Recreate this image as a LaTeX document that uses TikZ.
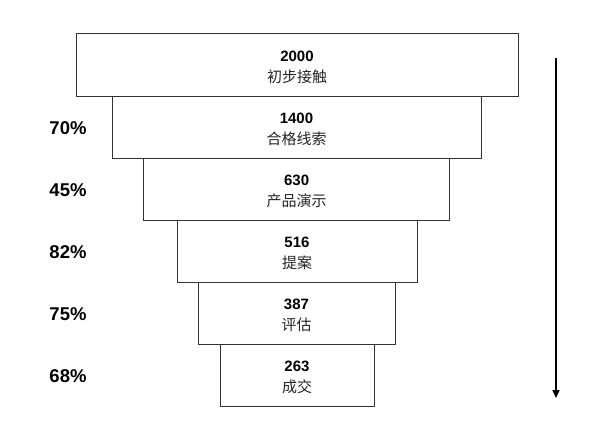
\documentclass[tikz,border=0pt]{standalone}
\usepackage{fontspec}
\setmainfont{Liberation Sans}
\newfontfamily\cjk{Noto Sans CJK SC}
\usetikzlibrary{arrows.meta}
\begin{document}
\begin{tikzpicture}[x=1pt,y=-1pt,
  stage/.style={draw=black!80, line width=1pt, minimum height=62pt, inner sep=0pt, align=center, fill=white, font=\fontsize{15}{21}\selectfont},
  pct/.style={font=\fontsize{18.5}{20}\selectfont\bfseries, inner sep=0pt}]
\useasboundingbox (0,0) rectangle (605,444);
\newcommand{\stagetext}[2]{\rule{0pt}{15pt}\textbf{#1}\\{\fontsize{15}{21}\selectfont\cjk\color{black!85} #2}}
\node[stage, minimum width=442pt] (s1) at (297,65) {\stagetext{2000}{初步接触}};
\node[stage, minimum width=369pt] (s2) at (296.5,127) {\stagetext{1400}{合格线索}};
\node[stage, minimum width=306pt] (s3) at (296.6,189) {\stagetext{630}{产品演示}};
\node[stage, minimum width=240pt] (s4) at (297,251) {\stagetext{516}{提案}};
\node[stage, minimum width=197pt] (s5) at (296.5,313) {\stagetext{387}{评估}};
\node[stage, minimum width=154pt] (s6) at (297,375) {\stagetext{263}{成交}};
\node[pct] (p2) at (68,128.5) {70\%};
\node[pct] (p3) at (68,190.5) {45\%};
\node[pct] (p4) at (68,252.5) {82\%};
\node[pct] (p5) at (68,314.5) {75\%};
\node[pct] (p6) at (68,376.5) {68\%};
\coordinate (atop) at (556,58);
\coordinate (abot) at (556,398);
\draw[line width=1.6pt, -{Triangle[width=7pt,length=8pt]}] (atop) -- (abot);
\end{tikzpicture}
\end{document}
